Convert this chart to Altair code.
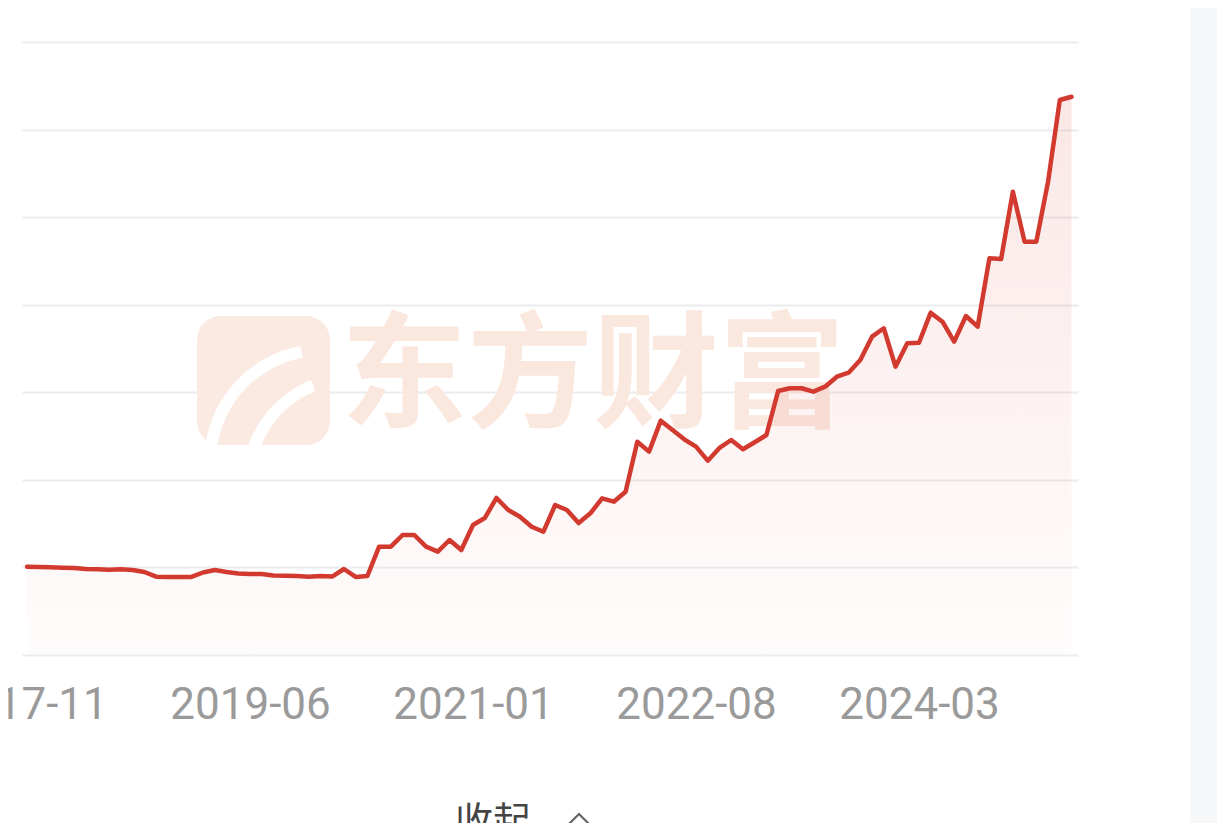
import altair as alt
import pandas as pd

# Monthly series, Nov 2017 .. Apr 2025 (grid units)
values = [
    1.008, 1.005, 1.001, 0.997, 0.993, 0.982, 0.979, 0.974, 0.979, 0.971,
    0.948, 0.894, 0.891, 0.891, 0.891, 0.942, 0.971, 0.948, 0.931, 0.925,
    0.925, 0.908, 0.906, 0.902, 0.894, 0.902, 0.896, 0.982, 0.891, 0.902,
    1.237, 1.237, 1.370, 1.370, 1.237, 1.180, 1.313, 1.199, 1.485, 1.564,
    1.793, 1.656, 1.579, 1.465, 1.408, 1.713, 1.656, 1.507, 1.618, 1.789,
    1.751, 1.865, 2.436, 2.322, 2.676, 2.569, 2.463, 2.379, 2.219, 2.364,
    2.455, 2.349, 2.429, 2.512, 3.015, 3.046, 3.046, 3.007, 3.064, 3.178,
    3.224, 3.369, 3.635, 3.731, 3.292, 3.559, 3.566, 3.909, 3.806, 3.578,
    3.871, 3.749, 4.530, 4.522, 5.291, 4.720, 4.720, 5.405, 6.338, 6.375,
]
index = list(range(len(values)))
tick_index = [0, 19, 38, 57, 76]
tick_labels = ["2017-11", "2019-06", "2021-01", "2022-08", "2024-03"]
grid_values = [0, 1, 2, 3, 4, 5, 6, 7]
watermark = ["东方财富"]
footer = ["收起"]

df = pd.DataFrame({"i": index, "v": values})
one = pd.DataFrame({"k": [0]})

label_expr = ""
for t, l in zip(tick_index, tick_labels):
    label_expr += f"datum.value == {t} ? '{l}' : "
label_expr += "''"

xscale = alt.Scale(domain=[-0.43, 89.55], nice=False, zero=False)
yscale = alt.Scale(domain=[0, 7], nice=False, zero=False)

x_axis = alt.Axis(
    values=tick_index, labelExpr=label_expr, grid=False, domain=False,
    ticks=False, labelFontSize=44, labelColor="#9a9a9a", labelFont="Roboto",
    labelPadding=28, labelFlush=False, labelOverlap=False, title=None,
)
y_axis = alt.Axis(
    values=grid_values, labels=False, ticks=False, domain=False, grid=True,
    gridColor="#ececef", gridWidth=2, title=None,
)

strip = alt.Chart(one).mark_rect(color="#f6f7f9").encode(
    x=alt.value(1168), x2=alt.value(1215), y=alt.value(-40), y2=alt.value(800)
)

logo = alt.Chart(one).mark_rect(color="#fbeae2", cornerRadius=24).encode(
    x=alt.value(175), x2=alt.value(308), y=alt.value(274), y2=alt.value(403)
)
logo_arc1 = alt.Chart(one).mark_arc(color="white").encode(
    x=alt.value(300), y=alt.value(420), radius=alt.value(118), radius2=alt.value(106),
    theta=alt.value(4.85), theta2=alt.value(6.1)
)
logo_arc2 = alt.Chart(one).mark_arc(color="white").encode(
    x=alt.value(330), y=alt.value(440), radius=alt.value(110), radius2=alt.value(98),
    theta=alt.value(4.95), theta2=alt.value(5.9)
)

wm_text = alt.Chart(pd.DataFrame({"t": watermark})).mark_text(
    font="Noto Sans CJK SC", fontSize=126, fontWeight="bold", color="#fae7de",
    align="center", baseline="middle",
).encode(text="t:N", x=alt.value(571), y=alt.value(338))

area = alt.Chart(df).mark_area(
    color=alt.Gradient(
        gradient="linear", x1=1, x2=1, y1=0, y2=1,
        stops=[
            alt.GradientStop(color="rgba(214,60,50,0.12)", offset=0),
            alt.GradientStop(color="rgba(214,60,50,0.015)", offset=1),
        ],
    )
).encode(
    x=alt.X("i:Q", scale=xscale, axis=x_axis),
    y=alt.Y("v:Q", scale=yscale, axis=y_axis),
)

line = alt.Chart(df).mark_line(
    color="#d23a30", strokeWidth=4.5, strokeJoin="round", strokeCap="round"
).encode(x="i:Q", y="v:Q")

foot_text = alt.Chart(pd.DataFrame({"t": footer})).mark_text(
    font="Noto Sans CJK SC", fontSize=38, color="#444444", align="center",
    baseline="top",
).encode(text="t:N", x=alt.value(471), y=alt.value(762))

chevron = alt.Chart(one).mark_point(
    shape="M-1,0.5L0,-0.5L1,0.5", filled=False, color="#666666", strokeWidth=2.2,
    size=1300, opacity=1,
).encode(x=alt.value(557), y=alt.value(781))

chart = alt.layer(
    strip, logo, logo_arc1, logo_arc2, wm_text, area, line, foot_text, chevron
).properties(
    width=1056, height=613,
    autosize=alt.AutoSizeParams(type="none"),
    padding={"left": 14, "top": 34, "right": 139, "bottom": 168},
    background="white",
).configure_view(stroke=None)

chart.save("out.html", embed_options={"renderer": "svg", "actions": False})
